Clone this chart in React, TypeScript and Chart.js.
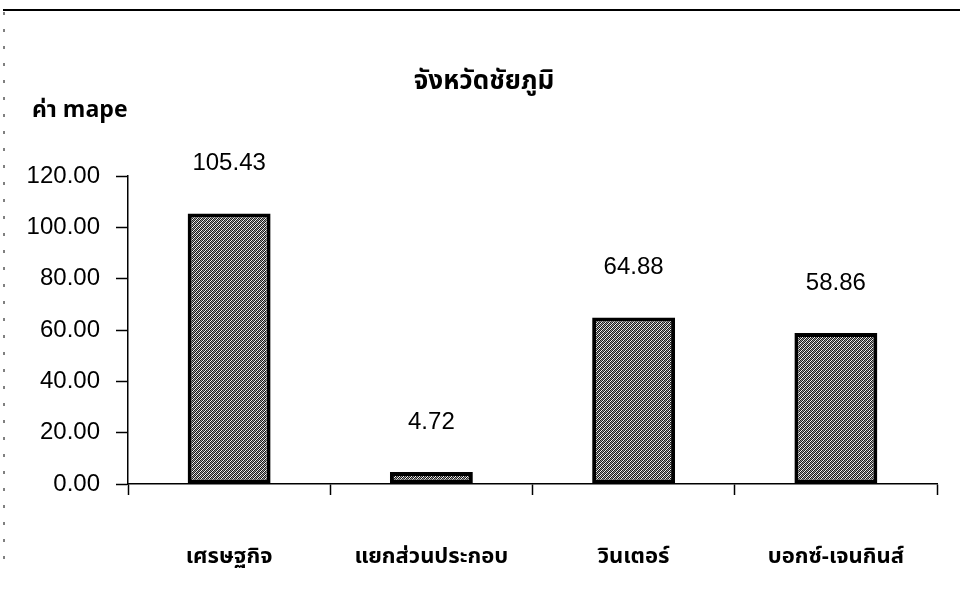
import React, { useEffect, useRef } from "react";
import { Chart, registerables } from "chart.js";

Chart.register(...registerables);

const title = "จังหวัดชัยภูมิ";
const yAxisLabel = "ค่า mape";
const categories = ["เศรษฐกิจ", "แยกส่วนประกอบ", "วินเตอร์", "บอกซ์-เจนกินส์"];
const mapeValues = [105.43, 4.72, 64.88, 58.86];
const yTicks = [0, 20, 40, 60, 80, 100, 120];

const LATIN_FONT = "'Liberation Sans', Arial, sans-serif";
const THAI_FONT = "'Noto Sans Thai', 'Loma', 'Garuda', 'Tahoma', 'Liberation Sans', sans-serif";

// dark stipple fill with light diagonal speckles
function makeStipple(): CanvasPattern | string {
  const tile = document.createElement("canvas");
  tile.width = 4;
  tile.height = 4;
  const t = tile.getContext("2d");
  if (!t) return "#606060";
  t.fillStyle = "#1c1c1c";
  t.fillRect(0, 0, 4, 4);
  for (let i = 0; i < 4; i++) {
    t.fillStyle = "#f4f4f4";
    t.fillRect(i, (3 - i) % 4, 1, 1);
    t.fillStyle = "#9a9a9a";
    t.fillRect(i, (5 - i) % 4, 1, 1);
  }
  const ctx = document.createElement("canvas").getContext("2d");
  return (ctx && ctx.createPattern(tile, "repeat")) || "#606060";
}

// page frame, heading, axis caption and value labels
const decorations = {
  id: "decorations",
  beforeDraw(chart: Chart) {
    const { ctx, width } = chart;
    ctx.save();
    ctx.fillStyle = "#ffffff";
    ctx.fillRect(0, 0, width, chart.height);
    ctx.strokeStyle = "#000";
    ctx.lineWidth = 2;
    ctx.beginPath();
    ctx.moveTo(3, 10);
    ctx.lineTo(width, 10);
    ctx.stroke();
    ctx.lineWidth = 1;
    ctx.setLineDash([3, 14]);
    ctx.beginPath();
    ctx.moveTo(4, 12);
    ctx.lineTo(4, 565);
    ctx.stroke();
    ctx.restore();
  },
  afterDraw(chart: Chart) {
    const { ctx, chartArea } = chart;
    ctx.save();
    ctx.fillStyle = "#000";
    ctx.textBaseline = "middle";

    ctx.textAlign = "center";
    ctx.font = `bold 26px ${THAI_FONT}`;
    ctx.fillText(title, 484, 84);

    ctx.textAlign = "left";
    ctx.font = `bold 23px ${THAI_FONT}`;
    ctx.fillText(yAxisLabel, chartArea.left - 96, chartArea.top - 64);

    ctx.textAlign = "center";
    ctx.font = `24px ${LATIN_FONT}`;
    const meta = chart.getDatasetMeta(0);
    meta.data.forEach((bar: any, i: number) => {
      ctx.fillText(mapeValues[i].toFixed(2), bar.x, bar.y - 50);
    });
    ctx.restore();
  },
};

export default function App() {
  const canvasRef = useRef<HTMLCanvasElement | null>(null);

  useEffect(() => {
    const canvas = canvasRef.current;
    if (!canvas) return;
    const stipple = makeStipple();
    const chart = new Chart(canvas, {
      type: "bar",
      data: {
        labels: categories,
        datasets: [
          {
            data: mapeValues,
            backgroundColor: stipple as any,
            borderColor: "#000",
            borderWidth: 4,
            borderSkipped: false,
            categoryPercentage: 1,
            barPercentage: 0.41,
          },
        ],
      },
      options: {
        animation: false,
        responsive: false,
        maintainAspectRatio: false,
        layout: { padding: { top: 176, right: 23, left: 0, bottom: 0 } },
        plugins: {
          legend: { display: false },
          tooltip: { enabled: false },
          title: { display: false },
        },
        scales: {
          x: {
            type: "category",
            offset: true,
            afterFit(scale: any) {
              scale.height = 124;
            },
            grid: {
              offset: true,
              display: true,
              drawOnChartArea: false,
              drawTicks: true,
              tickLength: 11,
              tickWidth: 1.5,
              tickColor: "#000",
            },
            border: { display: true, color: "#000", width: 1.5 },
            ticks: {
              color: "#000",
              padding: 50,
              font: { family: THAI_FONT, size: 22, weight: "bold" },
              maxRotation: 0,
              autoSkip: false,
            },
          },
          y: {
            min: 0,
            max: 120,
            afterFit(scale: any) {
              scale.width = 128;
            },
            afterBuildTicks(scale: any) {
              scale.ticks = yTicks.map((v) => ({ value: v }));
            },
            grid: {
              display: true,
              drawOnChartArea: false,
              drawTicks: true,
              tickLength: 12,
              tickWidth: 1.5,
              tickColor: "#000",
            },
            border: { display: true, color: "#000", width: 1.5 },
            ticks: {
              color: "#000",
              padding: 16,
              font: { family: LATIN_FONT, size: 24 },
              callback: (v: any) => Number(v).toFixed(2),
            },
          },
        },
      },
      plugins: [decorations],
    });
    return () => chart.destroy();
  }, []);

  return (
    <div style={{ position: "fixed", left: 0, top: 0, width: 960, height: 608, background: "#fff" }}>
      <canvas ref={canvasRef} width={960} height={608} style={{ display: "block", width: 960, height: 608 }} />
    </div>
  );
}
